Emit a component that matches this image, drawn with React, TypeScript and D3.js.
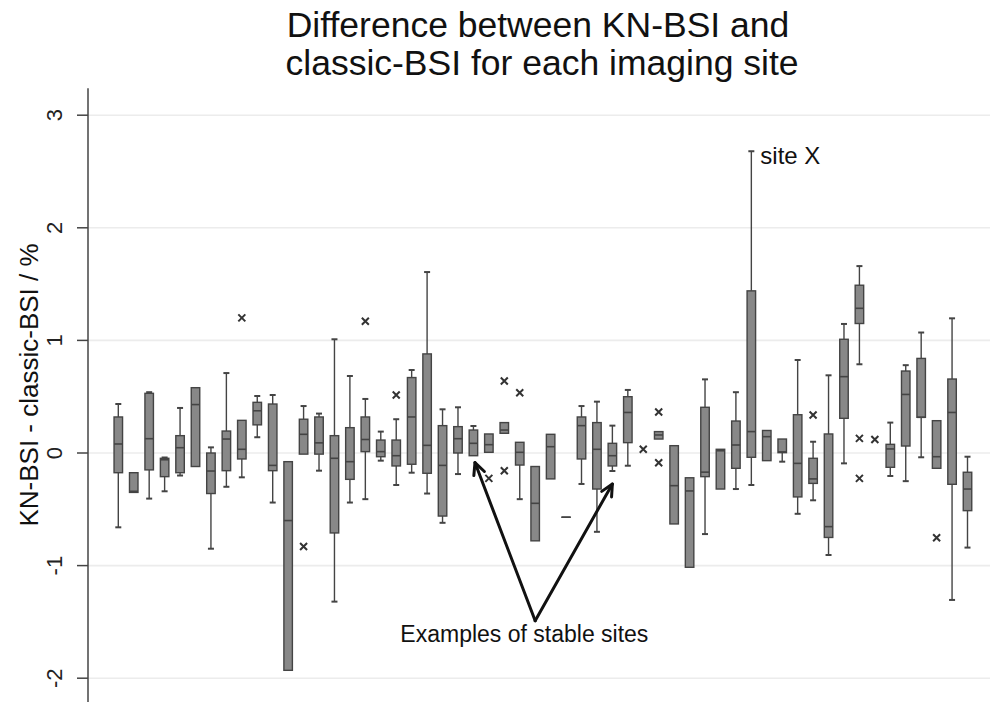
import React from 'react';
import * as d3 from 'd3';

// one entry per imaging site (1..56); null = no box drawn for that site
const sites = d3.range(1, 57);
const whiskerLow = [-0.66, -0.35, -0.405, -0.34, -0.2, -0.12, -0.85, -0.3, -0.216, 0.14, -0.44, -1.93, -0.01, -0.157, -1.32, -0.44, -0.41, -0.068, -0.284, -0.175, -0.36, -0.62, -0.187, -0.024, 0.006, 0.175, -0.41, -0.78, -0.23, -0.57, -0.275, -0.7, -0.16, -0.113, null, 0.124, -0.63, -1.015, -0.72, -0.32, -0.32, -0.284, -0.068, -0.077, -0.54, -0.42, -0.906, -0.092, 0.788, null, -0.204, -0.25, -0.038, -0.136, -1.305, -0.84];
const q1 = [-0.175, -0.35, -0.15, -0.21, -0.175, -0.12, -0.36, -0.157, -0.053, 0.25, -0.157, -1.93, -0.01, -0.01, -0.71, -0.234, 0.012, -0.033, -0.115, -0.1, -0.18, -0.56, 0.0, -0.024, 0.006, 0.175, -0.107, -0.78, -0.23, -0.57, -0.053, -0.32, -0.115, 0.092, null, 0.124, -0.63, -1.015, -0.21, -0.32, -0.136, -0.038, -0.068, 0.003, -0.39, -0.27, -0.75, 0.308, 1.15, null, -0.127, 0.062, 0.317, -0.136, -0.278, -0.512];
const median = [0.08, -0.34, 0.127, -0.06, 0.047, 0.43, -0.16, 0.124, 0.033, 0.375, -0.11, -0.6, 0.166, 0.09, -0.047, -0.077, 0.12, 0.012, -0.024, 0.32, 0.068, -0.11, 0.127, 0.086, 0.074, 0.204, 0.006, -0.447, 0.056, -0.57, 0.243, 0.033, -0.024, 0.36, null, 0.16, -0.29, -0.337, -0.17, 0.02, 0.071, 0.19, 0.145, 0.01, -0.092, -0.23, -0.654, 0.678, 1.285, null, 0.036, 0.52, 0.317, -0.033, 0.36, -0.32];
const q3 = [0.32, -0.175, 0.53, -0.047, 0.154, 0.58, 0.0, 0.195, 0.29, 0.45, 0.435, -0.077, 0.3, 0.32, 0.154, 0.225, 0.32, 0.115, 0.115, 0.67, 0.88, 0.243, 0.234, 0.204, 0.169, 0.27, 0.095, -0.12, 0.166, -0.57, 0.32, 0.27, 0.086, 0.5, null, 0.19, 0.065, -0.22, 0.406, 0.033, 0.284, 1.44, 0.2, 0.124, 0.34, -0.047, 0.169, 1.01, 1.49, null, 0.077, 0.728, 0.84, 0.287, 0.657, -0.171];
const whiskerHigh = [0.435, -0.175, 0.54, -0.04, 0.4, 0.58, 0.05, 0.71, 0.29, 0.506, 0.515, -0.077, 0.417, 0.35, 1.01, 0.684, 0.48, 0.19, 0.3, 0.737, 1.607, 0.388, 0.406, 0.24, 0.169, 0.27, 0.095, -0.12, 0.166, -0.57, 0.417, 0.456, 0.243, 0.56, null, 0.19, 0.065, -0.22, 0.654, 0.033, 0.54, 2.68, 0.2, 0.124, 0.826, 0.1, 0.69, 1.146, 1.66, null, 0.27, 0.78, 1.07, 0.287, 1.196, -0.033];

const outlierSite = [9, 13, 17, 19, 25, 26, 26, 27, 35, 36, 36, 46, 49, 49, 50, 54];
const outlierValue = [1.2, -0.83, 1.17, 0.515, -0.225, 0.64, -0.157, 0.535, 0.033, 0.364, -0.086, 0.337, 0.13, -0.225, 0.12, -0.752];

const yTicks = [-2, -1, 0, 1, 2, 3];

const W = 997;
const H = 702;
const font = '"Liberation Sans", Arial, sans-serif';
const boxFill = '#888888';
const ink = '#444444';

const App = () => {
    const x = d3.scaleLinear().domain([1, 56]).range([118.3, 967.5]);
    const y = d3.scaleLinear().domain([-2, 3]).range([678.2, 115.2]);
    const axisX = 88;
    const plotRight = 990;
    const boxW = 8.5;
    const capW = 6;
    const mk = 3.5;

    const arrowApex = [x(28), y(-1.49)];
    const arrowTips = [[x(24.1), y(-0.085)], [x(33), y(-0.275)]];
    const head = (from, to) => {
        const a = Math.atan2(to[1] - from[1], to[0] - from[0]);
        const len = 13, spread = 0.45;
        const p1 = [to[0] - len * Math.cos(a - spread), to[1] - len * Math.sin(a - spread)];
        const p2 = [to[0] - len * Math.cos(a + spread), to[1] - len * Math.sin(a + spread)];
        return `M${p1[0]},${p1[1]}L${to[0]},${to[1]}L${p2[0]},${p2[1]}`;
    };

    return (
        <svg width={W} height={H} style={{ position: 'absolute', left: 0, top: 0, background: '#fff' }}
             fontFamily={font}>
            {/* title */}
            <text x={538} y={37} textAnchor="middle" fontSize={35.5} fill="#111">Difference between KN-BSI and</text>
            <text x={542} y={75} textAnchor="middle" fontSize={35.5} fill="#111">classic-BSI for each imaging site</text>

            {/* grid */}
            {yTicks.map(t => (
                <line key={'g' + t} x1={axisX} x2={plotRight} y1={y(t)} y2={y(t)} stroke="#ececec" strokeWidth={1.6} />
            ))}

            {/* y axis */}
            <line x1={axisX} x2={axisX} y1={y(3.24)} y2={y(-2.22)} stroke={ink} strokeWidth={1.5} />
            {yTicks.map(t => (
                <g key={'t' + t}>
                    <line x1={axisX - 11} x2={axisX} y1={y(t)} y2={y(t)} stroke={ink} strokeWidth={1.5} />
                    <text transform={`translate(62,${y(t)}) rotate(-90)`} textAnchor="middle" fontSize={22} fill="#222">{t}</text>
                </g>
            ))}
            <text transform={`translate(38,385) rotate(-90)`} textAnchor="middle" fontSize={26} fill="#111">
                KN-BSI - classic-BSI / %
            </text>

            {/* boxes */}
            {sites.map((s, i) => {
                if (q1[i] === null) return null;
                const cx = x(s);
                return (
                    <g key={'b' + s} stroke={ink} strokeWidth={1.4}>
                        {whiskerHigh[i] > q3[i] && (
                            <>
                                <line x1={cx} x2={cx} y1={y(q3[i])} y2={y(whiskerHigh[i])} />
                                <line x1={cx - capW / 2} x2={cx + capW / 2} y1={y(whiskerHigh[i])} y2={y(whiskerHigh[i])} strokeWidth={2} />
                            </>
                        )}
                        {whiskerLow[i] < q1[i] && (
                            <>
                                <line x1={cx} x2={cx} y1={y(q1[i])} y2={y(whiskerLow[i])} />
                                <line x1={cx - capW / 2} x2={cx + capW / 2} y1={y(whiskerLow[i])} y2={y(whiskerLow[i])} strokeWidth={2} />
                            </>
                        )}
                        <rect x={cx - boxW / 2} width={boxW} y={y(q3[i])}
                              height={Math.max(0.01, y(q1[i]) - y(q3[i]))} fill={boxFill} />
                        <line x1={cx - boxW / 2} x2={cx + boxW / 2} y1={y(median[i])} y2={y(median[i])} strokeWidth={1.6} />
                    </g>
                );
            })}

            {/* outside values */}
            {outlierSite.map((s, i) => {
                const cx = x(s), cy = y(outlierValue[i]);
                return (
                    <path key={'o' + i} d={`M${cx - mk},${cy - mk}L${cx + mk},${cy + mk}M${cx - mk},${cy + mk}L${cx + mk},${cy - mk}`}
                          stroke="#333" strokeWidth={2} fill="none" />
                );
            })}

            {/* annotations */}
            <text x={x(42) + 9} y={y(2.68) + 13} fontSize={24} fill="#111">site X</text>
            {arrowTips.map((tip, i) => (
                <g key={'a' + i} stroke="#111" strokeWidth={3} fill="none" strokeLinecap="round" strokeLinejoin="round">
                    <line x1={arrowApex[0]} y1={arrowApex[1]} x2={tip[0]} y2={tip[1]} />
                    <path d={head(arrowApex, tip)} />
                </g>
            ))}
            <text x={x(27.3)} y={y(-1.68)} textAnchor="middle" fontSize={23} fill="#111">Examples of stable sites</text>
        </svg>
    );
};

export default App;
